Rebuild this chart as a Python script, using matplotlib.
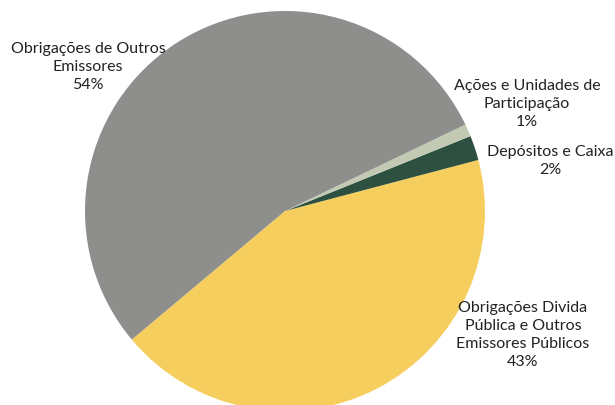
import matplotlib
matplotlib.use("Agg")
import matplotlib.pyplot as plt

categories = ["Obrigações Divida\nPública e Outros\nEmissores Públicos",
              "Depósitos e Caixa",
              "Ações e Unidades de\nParticipação",
              "Obrigações de Outros\nEmissores"]
values = [43, 2, 1, 54]
colors = ["#f6ce5e", "#2e5040", "#c3cab4", "#8e8e8c"]

plt.rcParams['font.family'] = ['Lato', 'DejaVu Sans']

fig = plt.figure(figsize=(6.15, 4.06), dpi=100)
ax = fig.add_axes([0, 0, 1, 1])

ax.pie(values, colors=colors, startangle=220, counterclock=True,
       center=(285, 194), radius=200, frame=True,
       wedgeprops=dict(linewidth=0))
ax.set_xlim(0, 615)
ax.set_ylim(0, 406)
ax.set_aspect('equal')
ax.axis('off')

label_pos = [(523, 71), (550, 245), (527, 302), (88, 339)]
for cat, v, (x, y) in zip(categories, values, label_pos):
    ax.text(x, y, f"{cat}\n{v}%", ha='center', va='center', fontsize=11.5,
            color='#222222', linespacing=1.38)

fig.savefig("out.png", dpi=100)
